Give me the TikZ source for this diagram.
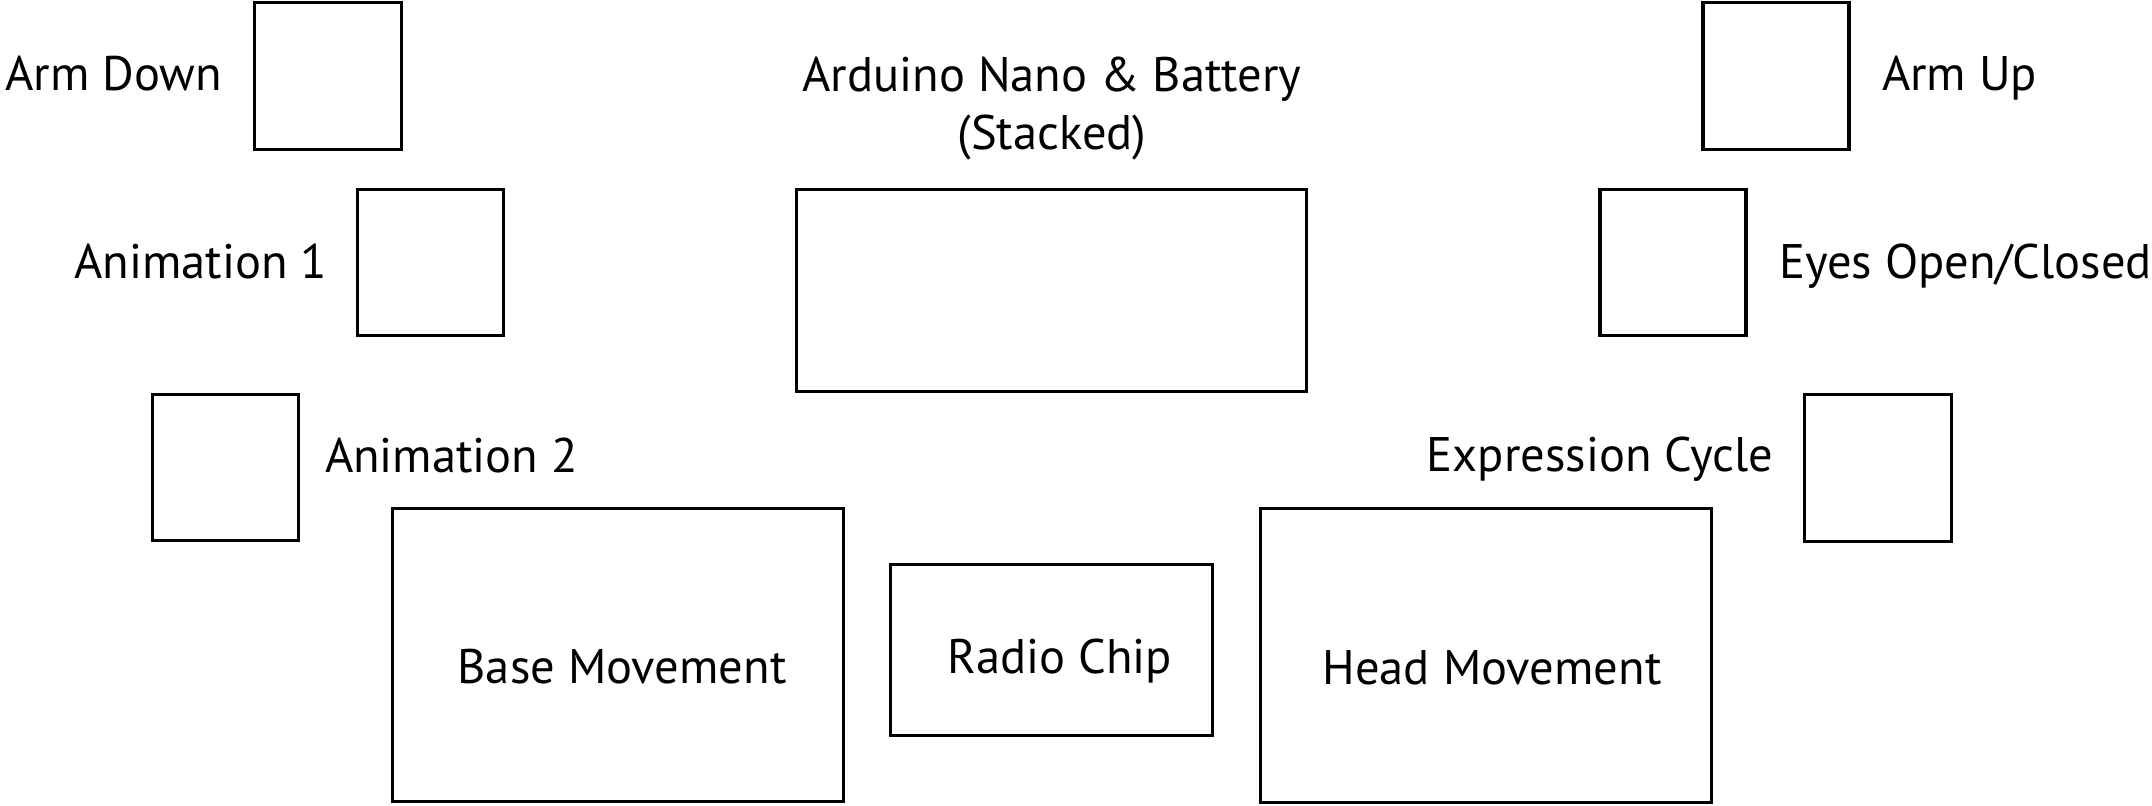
\documentclass[tikz,border=0pt]{standalone}
\usepackage{fontspec}
\setmainfont{PT Sans}
\begin{document}
\begin{tikzpicture}[x=0.01cm,y=-0.01cm,
  box/.style={draw=black,line width=0.034cm,inner sep=0pt,outer sep=0pt},
  lbl/.style={inner sep=0pt,outer sep=0pt,font=\fontsize{13.8pt}{16pt}\selectfont}]
\useasboundingbox (0,0) rectangle (2152,805);
% boxes
\node[box, minimum width=1.47cm, minimum height=1.47cm] (armdown) at (328,76) {};
\node[box, minimum width=1.46cm, minimum height=1.46cm] (anim1) at (430.5,262.5) {};
\node[box, minimum width=1.46cm, minimum height=1.46cm] (anim2) at (225.5,467.5) {};
\node[box, minimum width=5.10cm, minimum height=2.02cm] (arduino) at (1051.5,290.5) {};
\node[box, minimum width=4.51cm, minimum height=2.93cm] (base) at (618,655) {};
\node[box, minimum width=3.22cm, minimum height=1.71cm] (radio) at (1051.5,650) {};
\node[box, minimum width=4.51cm, minimum height=2.94cm] (head) at (1486,655.5) {};
\node[box, minimum width=1.46cm, minimum height=1.47cm] (armup) at (1776,76) {};
\node[box, minimum width=1.46cm, minimum height=1.46cm] (eyes) at (1673,262.5) {};
\node[box, minimum width=1.47cm, minimum height=1.47cm] (expr) at (1878,468) {};
% labels
\node[lbl,anchor=base east] (tarmdown) at (222,90) {Arm Down};
\node[lbl,anchor=base east] (tanim1) at (327,278) {Animation 1};
\node[lbl,anchor=base west] (tanim2) at (325,472) {Animation 2};
\node[lbl,anchor=base] (tarduino1) at (1052,91) {Arduino Nano \& Battery};
\node[lbl,anchor=base] (tarduino2) at (1052,149) {(Stacked)};
\node[lbl,anchor=base] (tbase) at (622,683) {Base Movement};
\node[lbl,anchor=base] (tradio) at (1060,673) {Radio Chip};
\node[lbl,anchor=base] (thead) at (1492,684) {Head Movement};
\node[lbl,anchor=base west] (tarmup) at (1882,90) {Arm Up};
\node[lbl,anchor=base west] (teyes) at (1779,278) {Eyes Open/Closed};
\node[lbl,anchor=base east] (texpr) at (1773,471) {Expression Cycle};
\end{tikzpicture}
\end{document}
